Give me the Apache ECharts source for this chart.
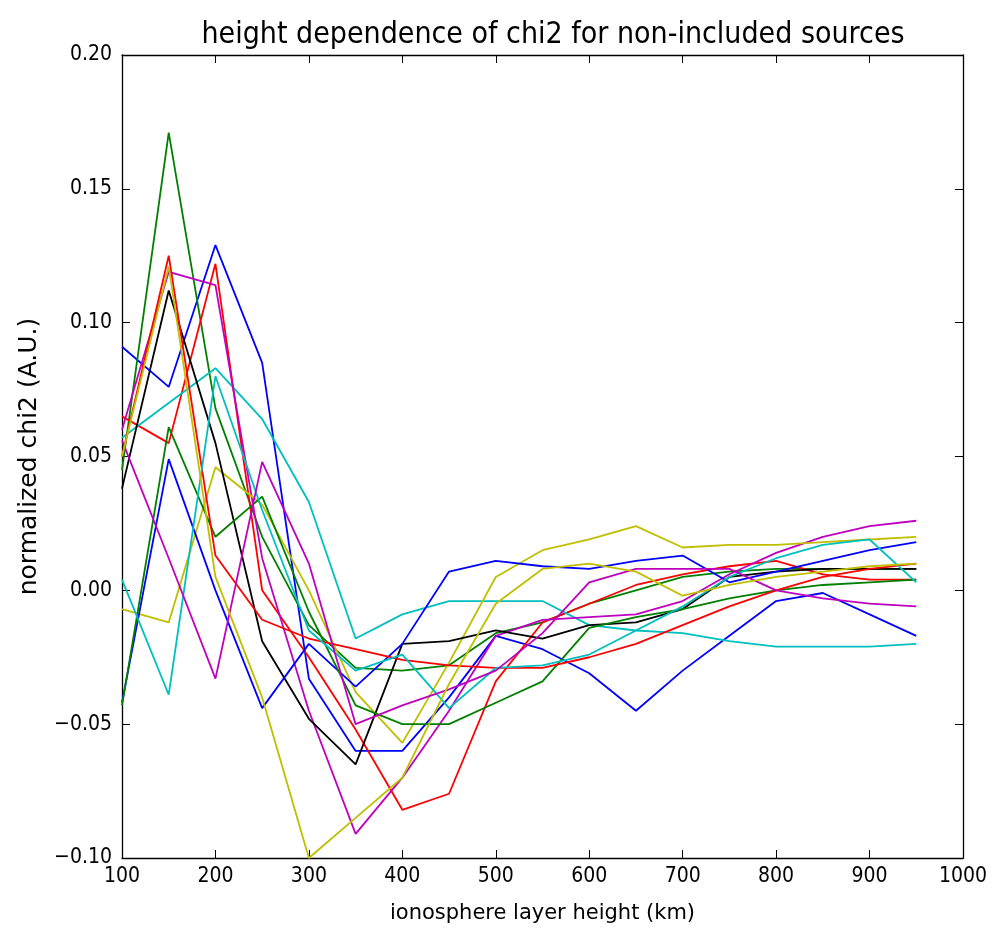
<!DOCTYPE html>
<html>
<head>
<meta charset="utf-8">
<script src="https://cdn.jsdelivr.net/npm/echarts@6/dist/echarts.min.js"></script>
<style>
  html, body { margin: 0; padding: 0; background: #fff; }
  #chart { width: 993px; height: 930px; }
</style>
</head>
<body>
<div id="chart"></div>
<script>
const heights = [100, 150, 200, 250, 300, 350, 400, 450, 500, 550, 600, 650, 700, 750, 800, 850, 900, 950];

const blueA    = [0.091, 0.076, 0.129, 0.085, -0.033, -0.060, -0.060, -0.040, -0.017, -0.022, -0.031, -0.045, -0.030, -0.017, -0.004, -0.001, -0.009, -0.017];
const greenA   = [0.045, 0.171, 0.068, 0.020, -0.013, -0.029, -0.030, -0.028, -0.016, -0.012, -0.005, 0.000, 0.005, 0.007, 0.008, 0.008, 0.008, 0.008];
const redA     = [0.065, 0.055, 0.122, 0.000, -0.025, -0.052, -0.082, -0.076, -0.034, -0.012, -0.005, 0.002, 0.006, 0.009, 0.011, 0.006, 0.004, 0.004];
const cyanA    = [0.057, 0.070, 0.083, 0.064, 0.033, -0.018, -0.009, -0.004, -0.004, -0.004, -0.013, -0.015, -0.016, -0.019, -0.021, -0.021, -0.021, -0.020];
const magentaA = [0.060, 0.119, 0.114, 0.012, -0.045, -0.091, -0.070, -0.045, -0.017, -0.011, -0.010, -0.009, -0.004, 0.006, 0.014, 0.020, 0.024, 0.026];
const yellowA  = [-0.007, -0.012, 0.046, 0.032, 0.000, -0.038, -0.057, -0.027, 0.005, 0.015, 0.019, 0.024, 0.016, 0.017, 0.017, 0.018, 0.019, 0.020];
const black    = [0.038, 0.112, 0.055, -0.019, -0.048, -0.065, -0.020, -0.019, -0.015, -0.018, -0.013, -0.012, -0.007, 0.005, 0.007, 0.008, 0.008, 0.008];
const blueB    = [-0.042, 0.049, 0.000, -0.044, -0.020, -0.036, -0.020, 0.007, 0.011, 0.009, 0.008, 0.011, 0.013, 0.003, 0.007, 0.011, 0.015, 0.018];
const greenB   = [-0.043, 0.061, 0.020, 0.035, -0.008, -0.043, -0.050, -0.050, -0.042, -0.034, -0.014, -0.010, -0.007, -0.003, 0.000, 0.002, 0.003, 0.004];
const redB     = [0.050, 0.125, 0.013, -0.011, -0.018, -0.022, -0.026, -0.028, -0.029, -0.029, -0.025, -0.020, -0.013, -0.006, 0.000, 0.005, 0.008, 0.010];
const cyanB    = [0.004, -0.039, 0.080, 0.030, -0.015, -0.030, -0.024, -0.044, -0.029, -0.028, -0.024, -0.015, -0.006, 0.005, 0.012, 0.017, 0.019, 0.003];
const magentaB = [0.056, 0.012, -0.033, 0.048, 0.010, -0.050, -0.043, -0.037, -0.030, -0.016, 0.003, 0.008, 0.008, 0.008, 0.000, -0.003, -0.005, -0.006];
const yellowB  = [0.050, 0.121, 0.005, -0.040, -0.100, -0.085, -0.070, -0.035, -0.005, 0.008, 0.010, 0.007, -0.002, 0.002, 0.005, 0.007, 0.009, 0.010];

const allSeries = [
  [blueA, '#0000ff'], [greenA, '#008000'], [redA, '#ff0000'], [cyanA, '#00bfbf'],
  [magentaA, '#bf00bf'], [yellowA, '#bfbf00'], [black, '#000000'],
  [blueB, '#0000ff'], [greenB, '#008000'], [redB, '#ff0000'], [cyanB, '#00bfbf'],
  [magentaB, '#bf00bf'], [yellowB, '#bfbf00']
];

const font = 'DejaVu Sans Condensed, DejaVu Sans, sans-serif';
const wide = 'DejaVu Sans, sans-serif';
const minus = s => s.replace('-', '\u2212');

const tickStyle = { show: true, inside: true, length: 8, lineStyle: { color: '#000', width: 1 } };
const lineStyle = { show: true, onZero: false, lineStyle: { color: '#000', width: 1.3 } };

const myChart = echarts.init(document.getElementById('chart'));
const option = {
  animation: false,
  backgroundColor: '#fff',
  title: {
    text: 'height dependence of chi2 for non-included sources',
    left: 548, top: 15, textAlign: 'center',
    textStyle: { fontFamily: font, fontSize: 30, fontWeight: 'normal', color: '#000' }
  },
  grid: { left: 122, right: 30, top: 55, bottom: 72 },
  xAxis: [
    {
      type: 'value', min: 100, max: 1000, interval: 100,
      name: 'ionosphere layer height (km)', nameLocation: 'middle', nameGap: 45,
      nameTextStyle: { fontFamily: wide, fontSize: 21, color: '#000' },
      axisLine: lineStyle, axisTick: tickStyle, splitLine: { show: false },
      axisLabel: { fontFamily: font, fontSize: 21, color: '#000', margin: 8,
        formatter: v => String(v) }
    },
    {
      type: 'value', min: 100, max: 1000, interval: 100, position: 'top',
      axisLine: lineStyle, axisTick: tickStyle, splitLine: { show: false },
      axisLabel: { show: false }
    }
  ],
  yAxis: [
    {
      type: 'value', min: -0.1, max: 0.2, interval: 0.05,
      name: 'normalized chi2 (A.U.)', nameLocation: 'middle', nameGap: 80, nameRotate: 90,
      nameTextStyle: { fontFamily: wide, fontSize: 25, color: '#000' },
      axisLine: lineStyle, axisTick: tickStyle, splitLine: { show: false },
      axisLabel: { fontFamily: font, fontSize: 21, color: '#000', margin: 10,
        formatter: v => minus(v.toFixed(2)) }
    },
    {
      type: 'value', min: -0.1, max: 0.2, interval: 0.05, position: 'right',
      axisLine: lineStyle, axisTick: tickStyle, splitLine: { show: false },
      axisLabel: { show: false }
    }
  ],
  series: allSeries.map(([vals, color]) => ({
    type: 'line',
    data: heights.map((h, i) => [h, vals[i]]),
    showSymbol: false,
    lineStyle: { color: color, width: 1.8 },
    itemStyle: { color: color },
    z: 2
  }))
};
option && myChart.setOption(option);
</script>
</body>
</html>
